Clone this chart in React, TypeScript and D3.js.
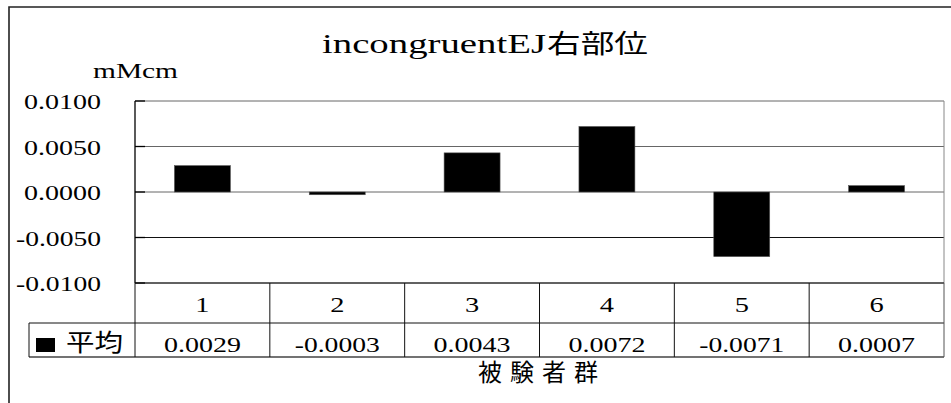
import React from "react";
import * as d3 from "d3";

const categories = ["1", "2", "3", "4", "5", "6"];
const values = [0.0029, -0.0003, 0.0043, 0.0072, -0.0071, 0.0007];
const yTicks = [0.01, 0.005, 0, -0.005, -0.01];
const seriesName = "平均";
const titleLatin = "incongruentEJ";
const titleCjk = "右部位";
const yUnit = "mMcm";
const xTitle = "被験者群";

const W = 951;
const H = 403;
const SERIF = "Liberation Serif, Times New Roman, DejaVu Serif, serif";
const CJK = "Noto Sans CJK JP, Noto Sans CJK SC, sans-serif";

const fmt = d3
  .formatLocale({ decimal: ".", thousands: ",", grouping: [3], currency: ["", ""], minus: "-" })
  .format(".4f");

function numWidth(s: string) {
  let w = 0;
  for (const c of s) w += c === "." ? 6 : c === "-" ? 8 : 14.2;
  return w;
}

const serif = { fontFamily: SERIF };
const cjk = { fontFamily: CJK };

export default function App() {
  const left = 135;
  const right = 944;
  const top = 101;
  const bottom = 283;
  const row1 = 323;
  const row2 = 357;
  const legendLeft = 29;

  const x = d3.scaleBand<string>().domain(categories).range([left, right]).padding(0);
  const y = d3.scaleLinear().domain([-0.01, 0.01]).range([bottom, top]);
  const bw = x.bandwidth() * 0.415;
  const bounds = categories.map((c) => x(c) as number).concat([right]);

  return (
    <svg width={W} height={H} style={{ position: "absolute", left: 0, top: 0, background: "#fff" }}>
      {/* outer frame */}
      <path d={`M9,${H + 5}V7H${W + 5}`} fill="none" stroke="#222" strokeWidth={1.6} />

      {/* title */}
      <text x={322} y={53} fontSize={27} style={serif} textLength={224} lengthAdjust="spacingAndGlyphs">
        {titleLatin}
      </text>
      <text x={547} y={53} fontSize={26} style={cjk} textLength={101} lengthAdjust="spacingAndGlyphs">
        {titleCjk}
      </text>
      <text x={135.5} y={78} textAnchor="middle" fontSize={21} style={serif} textLength={85} lengthAdjust="spacingAndGlyphs">
        {yUnit}
      </text>

      {/* gridlines */}
      {yTicks.map((t) => (
        <g key={t}>
          <line x1={left} x2={right} y1={y(t)} y2={y(t)} stroke={t === -0.005 ? "#111" : "#666"} strokeWidth={1} />
          <line x1={left} x2={left + 10} y1={y(t)} y2={y(t)} stroke="#000" strokeWidth={1.3} />
          <text
            x={101}
            y={y(t) + 8}
            textAnchor="end"
            fontSize={21}
            style={serif}
            textLength={numWidth(fmt(t))}
            lengthAdjust="spacingAndGlyphs"
          >
            {fmt(t)}
          </text>
        </g>
      ))}
      {/* plot frame */}
      <line x1={right} x2={right} y1={top} y2={bottom} stroke="#888" strokeWidth={1} />
      <line x1={left} x2={left} y1={top} y2={bottom} stroke="#000" strokeWidth={1.3} />

      {/* bars */}
      {categories.map((c, i) => {
        const v = values[i];
        const cx = (x(c) as number) + x.bandwidth() / 2;
        const y0 = y(0);
        const y1 = y(v);
        return (
          <rect
            key={c}
            x={cx - bw / 2}
            y={Math.min(y0, y1)}
            width={bw}
            height={Math.max(Math.abs(y1 - y0), 1)}
            fill="#000"
            stroke="#555"
            strokeWidth={0.6}
          />
        );
      })}

      {/* data table */}
      <g stroke="#111" strokeWidth={1} fill="none">
        <line x1={left} x2={right} y1={bottom} y2={bottom} />
        <line x1={legendLeft} x2={right} y1={row1} y2={row1} />
        <line x1={legendLeft} x2={right} y1={row2} y2={row2} stroke="#444" strokeWidth={1.5} />
        <line x1={legendLeft} x2={legendLeft} y1={row1} y2={row2} />
        {bounds.map((b, i) => (
          <line key={i} x1={b} x2={b} y1={bottom} y2={row2} stroke={i === bounds.length - 1 ? "#555" : "#111"} />
        ))}
      </g>
      {categories.map((c, i) => {
        const cx = (x(c) as number) + x.bandwidth() / 2;
        const s = fmt(values[i]);
        return (
          <g key={c}>
            <text x={cx} y={312} textAnchor="middle" fontSize={21} style={serif} textLength={numWidth(c)} lengthAdjust="spacingAndGlyphs">
              {c}
            </text>
            <text x={cx} y={352} textAnchor="middle" fontSize={21} style={serif} textLength={numWidth(s)} lengthAdjust="spacingAndGlyphs">
              {s}
            </text>
          </g>
        );
      })}
      <rect x={36} y={338} width={19} height={14} fill="#000" />
      <text x={66} y={351} fontSize={24} style={cjk} textLength={57} lengthAdjust="spacingAndGlyphs">
        {seriesName}
      </text>

      {/* x title */}
      <text x={478} y={381} fontSize={24} style={cjk} textLength={120} lengthAdjust="spacing">
        {xTitle}
      </text>
    </svg>
  );
}
